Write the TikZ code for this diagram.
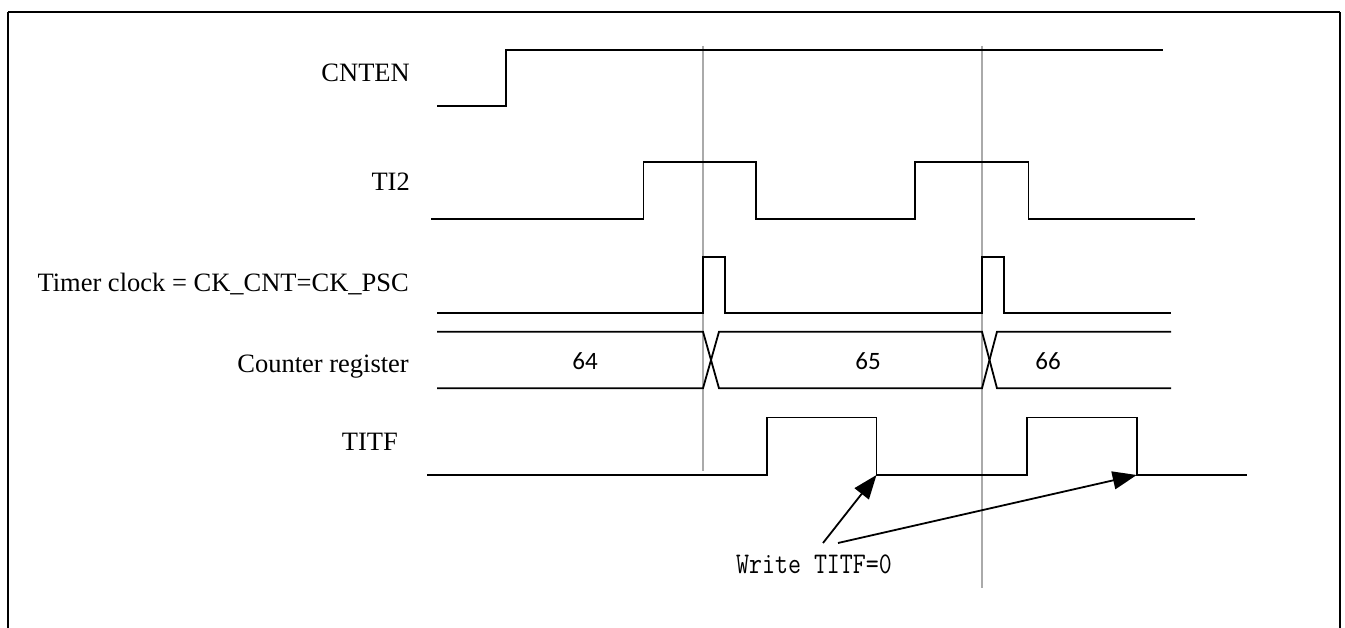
\documentclass[tikz,border=0pt]{standalone}
\usepackage{fontspec}
\setmainfont{Liberation Serif}
\newfontfamily\numfont{Carlito}
\newfontfamily\monofont[FakeStretch=0.84]{Latin Modern Mono}
\usetikzlibrary{arrows.meta}
\definecolor{guide}{RGB}{170,170,170}
\begin{document}
\begin{tikzpicture}[x=1pt, y=-1pt,
    sig/.style={line width=1.8pt, line join=miter},
    guideline/.style={draw=guide, line width=1.5pt},
    lbl/.style={draw=none, inner sep=0pt, anchor=base east, font=\fontsize{26.5}{30}\selectfont},
    val/.style={draw=none, inner sep=0pt, anchor=base, font=\numfont\fontsize{25}{28}\selectfont},
    warrow/.style={line width=1.8pt, -{Triangle[length=24pt, width=18pt]}}]

    \useasboundingbox (0,0) rectangle (1345,628);
    \fill[white] (0,0) rectangle (1345,628);

    % frame, open at the bottom
    \draw[line width=2pt] (8,12) -- (1340,12);
    \draw[line width=1.2pt] (8,12) -- (8,628);
    \draw[line width=1.2pt] (1340,12) -- (1340,628);

    % guide lines
    \draw[guideline] (703,46) -- (703,471);
    \draw[guideline] (982,46) -- (982,588);

    % signal names
    \node[lbl] (lblcnten) at (410,81.6) {CNTEN};
    \node[lbl] (lblti) at (410,190.6) {TI2};
    \node[lbl] (lblclk) at (409,291.7) {Timer clock = CK\_CNT=CK\_PSC};
    \node[lbl] (lblcnt) at (409,373) {Counter register};
    \node[lbl] (lbltitf) at (398,450.7) {TITF};

    % CNTEN
    \draw[sig] (437,106) -- (506,106) -- (506,50) -- (1163,50);

    % TI2
    \draw[sig] (431,219) -| (643.5,162) -| (756,219) -| (915,162) -| (1028.5,219) -- (1195,219);

    % timer clock
    \draw[sig] (437,312.7) -| (703,256.7) -| (725,312.7) -| (982,256.7) -| (1004,312.7) -- (1171,312.7);

    % counter register
    \draw[sig] (437,331.7) -- (703,331.7) -- (719,388.3) -- (982,388.3) -- (997,331.7) -- (1171,331.7);
    \draw[sig] (437,388.3) -- (703,388.3) -- (719,331.7) -- (982,331.7) -- (997,388.3) -- (1171,388.3);
    \node[val] (v64) at (585,370) {64};
    \node[val] (v65) at (868,370) {65};
    \node[val] (v66) at (1048,370) {66};

    % TITF
    \draw[sig] (427,475) -| (766.7,417.5) -| (876.5,475) coordinate (fall1) -| (1026.7,417.5) -| (1136.7,475) coordinate (fall2) -- (1246.7,475);

    % software clear
    \node[draw=none, inner sep=0pt, anchor=base, font=\monofont\fontsize{30}{32}\selectfont] (wrtitf) at (814,573) {Write TITF=0};
    \draw[warrow] ([xshift=9pt,yshift=30pt]wrtitf.base) -- (fall1);
    \draw[warrow] ([xshift=24pt,yshift=30pt]wrtitf.base) -- (fall2);

\end{tikzpicture}
\end{document}
